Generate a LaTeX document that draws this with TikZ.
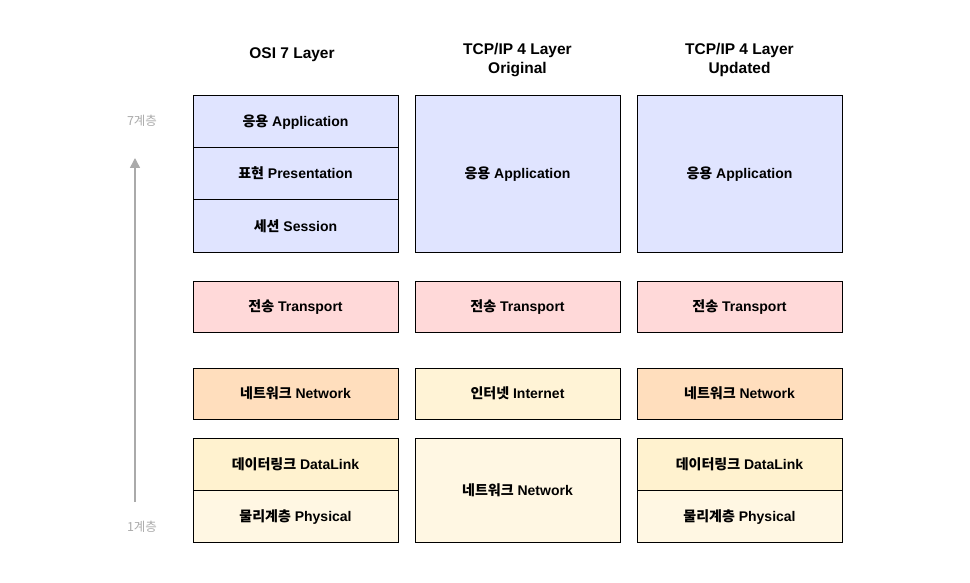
\documentclass[tikz,border=0pt]{standalone}
\usepackage{fontspec}
\setmainfont{Liberation Sans}
\newfontfamily\kr{Noto Sans CJK KR}
\usetikzlibrary{positioning, arrows.meta}
\definecolor{appcolor}{RGB}{224,228,255}
\definecolor{transcolor}{RGB}{255,217,217}
\definecolor{netcolor}{RGB}{255,222,189}
\definecolor{inetcolor}{RGB}{255,243,214}
\definecolor{linkcolor}{RGB}{255,242,207}
\definecolor{phycolor}{RGB}{255,247,227}
\definecolor{stepgray}{RGB}{170,170,170}
\newcommand{\ko}[1]{{\kr #1}}

\begin{document}
\begin{tikzpicture}[
    x=1pt, y=-1pt,
    layer/.style={rectangle, draw, line width=0.9pt, minimum width=205pt, minimum height=52pt, outer sep=0pt, align=center, text depth=1pt, font=\bfseries\fontsize{14}{16}\selectfont},
    title/.style={align=center, font=\bfseries\fontsize{15.5}{19}\selectfont},
    steplabel/.style={text=stepgray, font=\kr\fontsize{12.5}{14}\selectfont}
]
\useasboundingbox (0,0) rectangle (970,583);

% Titles
\node[title] (osititle) at (292,54.5) {OSI 7 Layer};
\node[title] (origtitle) at (517.5,60) {TCP/IP 4 Layer\\Original};
\node[title] (updtitle) at (739.5,60) {TCP/IP 4 Layer\\Updated};

% OSI 7 layer
\node[layer, fill=appcolor, minimum height=52.3pt] (osiapp) at (295.5,121.2) {\ko{응용} Application};
\node[layer, fill=appcolor, minimum height=52.3pt, below=0pt of osiapp] (osipres) {\ko{표현} Presentation};
\node[layer, fill=appcolor, minimum height=52.3pt, below=0pt of osipres] (osisess) {\ko{세션} Session};
\node[layer, fill=transcolor, minimum height=51pt] (ositrans) at (295.5,306.5) {\ko{전송} Transport};
\node[layer, fill=netcolor, minimum height=51pt] (osinet) at (295.5,393.5) {\ko{네트워크} Network};
\node[layer, fill=linkcolor] (osilink) at (295.5,464) {\ko{데이터링크} DataLink};
\node[layer, fill=phycolor, below=0pt of osilink] (osiphy) {\ko{물리계층} Physical};

% TCP/IP original
\node[layer, fill=appcolor, minimum height=157pt] (origapp) at (517.5,173.5) {\ko{응용} Application};
\node[layer, fill=transcolor, minimum height=51pt, right=17pt of ositrans] (origtrans) {\ko{전송} Transport};
\node[layer, fill=inetcolor, minimum height=51pt, right=17pt of osinet] (originet) {\ko{인터넷} Internet};
\node[layer, fill=phycolor, minimum height=104pt] (orignet) at (517.5,490) {\ko{네트워크} Network};

% TCP/IP updated
\node[layer, fill=appcolor, minimum height=157pt, right=17pt of origapp] (updapp) {\ko{응용} Application};
\node[layer, fill=transcolor, minimum height=51pt, right=17pt of origtrans] (updtrans) {\ko{전송} Transport};
\node[layer, fill=netcolor, minimum height=51pt, right=17pt of originet] (updnet) {\ko{네트워크} Network};
\node[layer, fill=linkcolor] (updlink) at (739.5,464) {\ko{데이터링크} DataLink};
\node[layer, fill=phycolor, below=0pt of updlink] (updphy) {\ko{물리계층} Physical};

% Layer axis
\node[steplabel] (topstep) at (142,121) {7계층};
\node[steplabel] (lowstep) at (142,527) {1계층};
\coordinate (axislow) at (135,502);
\coordinate (axishigh) at (135,158);
\draw[-{Triangle[length=10pt,width=10pt]}, stepgray, line width=1.5pt] (axislow) -- (axishigh);

\end{tikzpicture}
\end{document}
